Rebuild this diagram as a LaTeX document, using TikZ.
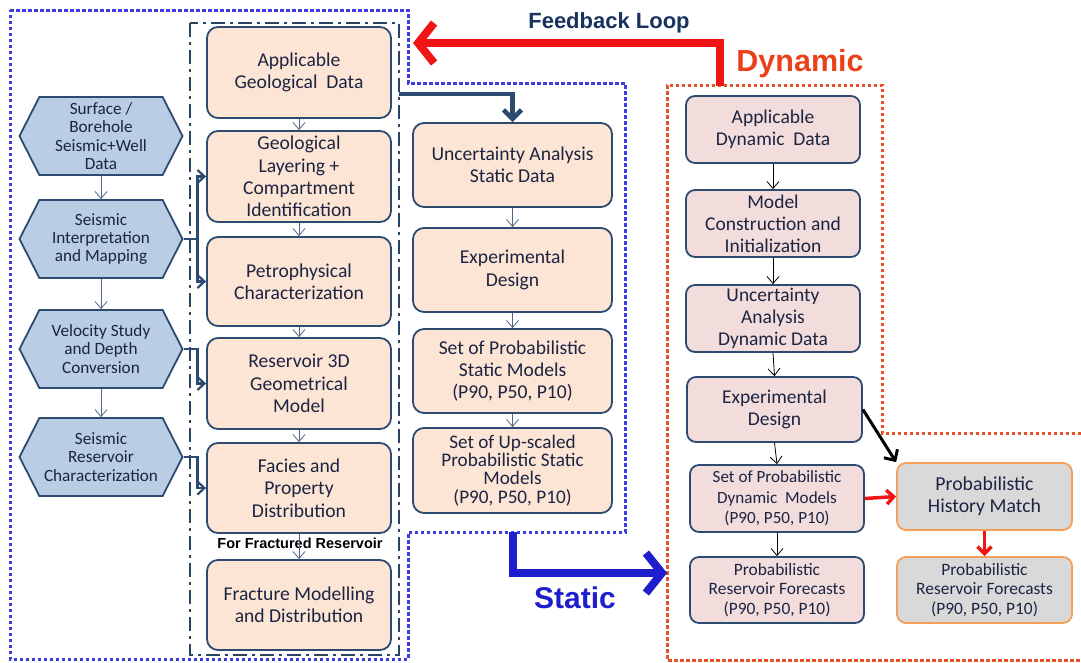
\documentclass[tikz,border=0pt]{standalone}
\usepackage{fontspec}
\setmainfont{Carlito}
\newfontfamily\headfont{Liberation Sans}
\usetikzlibrary{arrows.meta,shapes.symbols,positioning}
\definecolor{boxline}{RGB}{45,75,112}
\definecolor{boxtext}{RGB}{28,36,66}
\definecolor{hexfill}{RGB}{185,205,229}
\definecolor{peach}{RGB}{252,229,213}
\definecolor{rosefill}{RGB}{242,221,220}
\definecolor{greyfill}{RGB}{217,217,217}
\definecolor{orangeline}{RGB}{245,160,90}
\definecolor{dotblue}{RGB}{60,60,225}
\definecolor{dotred}{RGB}{232,80,40}
\definecolor{staticblue}{RGB}{30,30,205}
\definecolor{dynred}{RGB}{235,65,25}
\definecolor{loopred}{RGB}{240,20,20}
\definecolor{loopnavy}{RGB}{25,50,95}
\definecolor{thinline}{RGB}{80,100,135}
\tikzset{
  hexbox/.style={shape=signal, signal to=west and east, signal pointer angle=126,
    draw=boxline, line width=1.8pt, fill=hexfill, text=boxtext, align=center,
    minimum width=163pt, minimum height=78pt, inner sep=0pt,
    font=\fontsize{17.2}{18.2}\selectfont},
  geobox/.style={draw=boxline, line width=1.8pt, rounded corners=11pt, fill=peach,
    text=boxtext, align=center, inner sep=0pt, font=\fontsize{19.6}{22.3}\selectfont},
  dynbox/.style={geobox, fill=rosefill, rounded corners=9pt, font=\fontsize{19.5}{22.2}\selectfont},
  histbox/.style={geobox, fill=greyfill, draw=orangeline, rounded corners=9pt, font=\fontsize{19.8}{22}\selectfont},
  thinarrow/.style={-{Straight Barb[length=7pt,width=12pt]}, draw=thinline, line width=0.8pt},
  hexarrow/.style={-{Straight Barb[length=7pt,width=13pt]}, draw=boxline, line width=2.2pt},
  navyarrow/.style={-{Straight Barb[length=9pt,width=18pt]}, draw=boxline, line width=4.5pt},
  redarrow/.style={-{Straight Barb[length=7pt,width=14pt]}, draw=loopred, line width=3.5pt}
}
\begin{document}
\begin{tikzpicture}[x=1pt,y=-1pt]
\useasboundingbox (0,0) rectangle (1081,662);
% frames
\draw[dotblue, line width=3pt, dash pattern=on 3.5pt off 2.5pt] (10,10) -- (408,10) -- (408,83) -- (625,83) -- (625,532) -- (408,532) -- (408,659) -- (10,659) -- cycle;
\draw[boxline!90!black, line width=2.6pt, dash pattern=on 14pt off 5pt on 3pt off 5pt] (190,23) rectangle (399,655);
\draw[dotred, line width=3pt, dash pattern=on 3.5pt off 2.5pt] (1081,433) -- (882,433) -- (882,85) -- (667,85) -- (667,660) -- (1081,660);

% seismic hexagons
\node[hexbox] (hex1) at (101,136) {Surface /\\Borehole\\Seismic+Well\\Data};
\node[hexbox] (hex2) at (101,239) {Seismic\\Interpretation\\and Mapping};
\node[hexbox] (hex3) at (101,349) {Velocity Study\\and Depth\\Conversion};
\node[hexbox] (hex4) at (101,457) {Seismic\\Reservoir\\Characterization};

% geological modelling
\node[geobox, minimum width=184pt, minimum height=91pt] (geo1) at (299,72.5) {Applicable\\Geological~ Data};
\node[geobox, minimum width=184pt, minimum height=91pt] (geo2) at (299,176.5) {Geological\\Layering +\\Compartment\\Identification};
\node[geobox, minimum width=184pt, minimum height=89pt] (geo3) at (299,281.5) {Petrophysical\\Characterization};
\node[geobox, minimum width=184pt, minimum height=91pt] (geo4) at (299,383.5) {Reservoir 3D\\Geometrical\\Model};
\node[geobox, minimum width=184pt, minimum height=90pt] (geo5) at (299,488) {Facies and\\Property\\Distribution};
\node[geobox, minimum width=184pt, minimum height=90pt] (geo6) at (299,605) {Fracture Modelling\\and Distribution};
\node[font=\headfont\bfseries\fontsize{14.5}{16}\selectfont] (frac) at (300,543) {For Fractured Reservoir};

% static column
\node[geobox, minimum width=199pt, minimum height=84pt] (stat1) at (512.5,165) {Uncertainty Analysis\\Static Data};
\node[geobox, minimum width=199pt, minimum height=84pt] (stat2) at (512.5,270) {Experimental\\Design};
\node[geobox, minimum width=199pt, minimum height=84pt] (stat3) at (512.5,371) {Set of Probabilistic\\Static Models\\(P90, P50, P10)};
\node[geobox, minimum width=199pt, minimum height=85pt, font=\fontsize{19.2}{18.3}\selectfont] (stat4) at (512.5,470.5) {Set of Up-scaled\\Probabilistic Static\\Models\\(P90, P50, P10)};

% dynamic column
\node[dynbox, minimum width=174pt, minimum height=67pt] (dyn1) at (773,129.5) {Applicable\\Dynamic~ Data};
\node[dynbox, minimum width=174pt, minimum height=67pt] (dyn2) at (773,223.5) {Model\\Construction and\\Initialization};
\node[dynbox, minimum width=174pt, minimum height=67pt] (dyn3) at (773,318.5) {Uncertainty\\Analysis\\Dynamic Data};
\node[dynbox, minimum width=175pt, minimum height=65pt] (dyn4) at (774.5,409.5) {Experimental\\Design};
\node[dynbox, minimum width=174pt, minimum height=67pt, font=\fontsize{17.1}{20.5}\selectfont] (dyn5) at (777,498.5) {Set of Probabilistic\\Dynamic~ Models\\(P90, P50, P10)};
\node[dynbox, minimum width=174pt, minimum height=66pt, font=\fontsize{17.4}{19.5}\selectfont] (dyn6) at (777,590) {Probabilistic\\Reservoir Forecasts\\(P90, P50, P10)};
\node[histbox, minimum width=175pt, minimum height=67pt] (hist) at (984.5,496.5) {Probabilistic\\History Match};
\node[histbox, minimum width=175pt, minimum height=66pt, font=\fontsize{17.4}{19.5}\selectfont] (fore) at (984.5,590) {Probabilistic\\Reservoir Forecasts\\(P90, P50, P10)};

% titles
\node[font=\headfont\bfseries\fontsize{22}{24}\selectfont, text=loopnavy] (looptitle) at (609,23) {Feedback Loop};
\node[font=\headfont\bfseries\fontsize{30.5}{32}\selectfont, text=dynred] (dyntitle) at (800,64) {Dynamic};
\node[font=\headfont\bfseries\fontsize{30}{32}\selectfont, text=staticblue] (stattitle) at (575,598) {Static};

% connectors
\foreach \a/\b in {hex1/hex2, hex2/hex3, hex3/hex4, geo1/geo2, geo2/geo3, geo3/geo4, geo4/geo5, geo5/geo6, stat1/stat2, stat2/stat3, stat3/stat4}
  \draw[thinarrow] (\a.south) -- (\b.north);
\foreach \a/\b in {dyn1/dyn2, dyn2/dyn3, dyn3/dyn4, dyn4/dyn5, dyn5/dyn6}
  \draw[thinarrow, draw=black] (\a.south) -- (\b.north);
\draw[hexarrow] (hex2.east) -- ++(14,0) |- (geo2.west);
\draw[hexarrow] (hex2.east) -- ++(14,0) |- (geo3.west);
\draw[hexarrow] (hex3.east) -- ++(14,0) |- (geo4.west);
\draw[hexarrow] (hex4.east) -- ++(14,0) |- (geo5.west);

\coordinate (staticin) at (399,94);
\draw[navyarrow] (staticin) -| (stat1.north);
\coordinate (loopstart) at (720,86);
\coordinate (loopend) at (413,43);
\draw[-{Straight Barb[length=16pt,width=40pt]}, loopred, line width=8pt] (loopstart) |- (loopend);
\coordinate (staticout) at (513,532);
\coordinate (dynin) at (667,573);
\draw[-{Straight Barb[length=16pt,width=40pt]}, staticblue, line width=8pt] (staticout) |- (dynin);

\draw[-{Straight Barb[length=8pt,width=16pt]}, black, line width=3pt] (dyn4.east) -- (hist.north west);
\draw[redarrow] (dyn5.east) -- (hist.west);
\draw[redarrow] (hist.south) -- (fore.north);
\end{tikzpicture}
\end{document}
